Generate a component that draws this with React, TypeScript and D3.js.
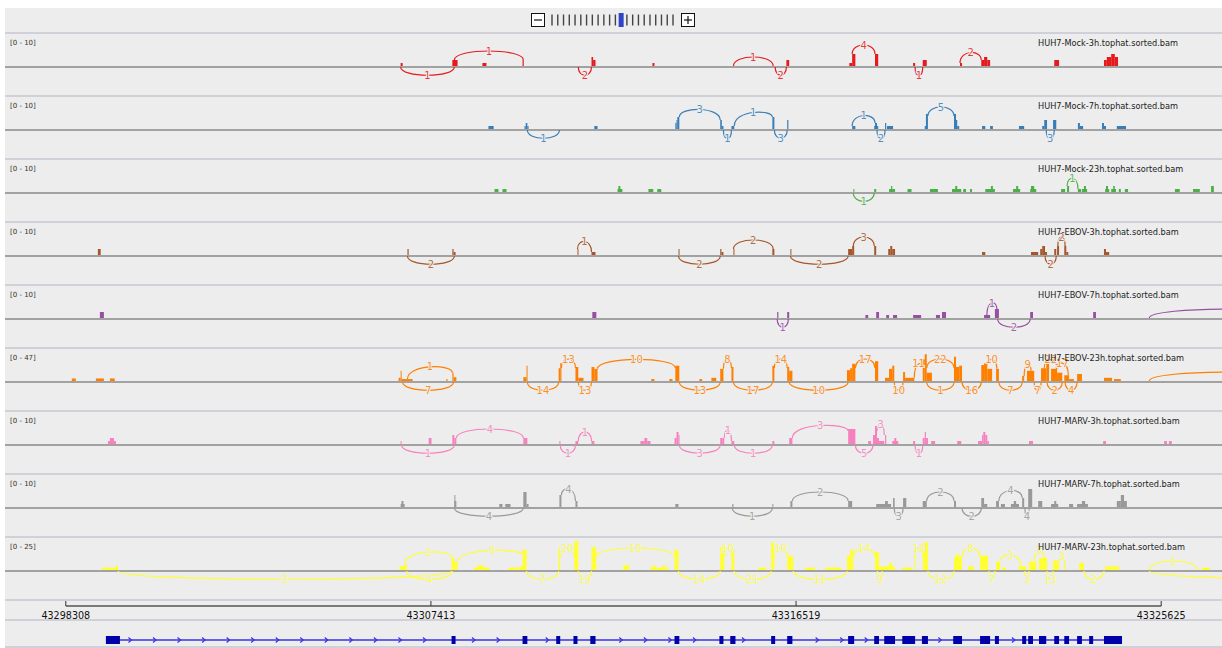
import React from "react";
import * as d3 from "d3";

// positions are kb offsets from the first axis tick (43298308)
const GENOME_START = 43298308;
const AXIS_TICKS = [43298308, 43307413, 43316519, 43325625];

const TRACK_NAMES = [
  "HUH7-Mock-3h.tophat.sorted.bam",
  "HUH7-Mock-7h.tophat.sorted.bam",
  "HUH7-Mock-23h.tophat.sorted.bam",
  "HUH7-EBOV-3h.tophat.sorted.bam",
  "HUH7-EBOV-7h.tophat.sorted.bam",
  "HUH7-EBOV-23h.tophat.sorted.bam",
  "HUH7-MARV-3h.tophat.sorted.bam",
  "HUH7-MARV-7h.tophat.sorted.bam",
  "HUH7-MARV-23h.tophat.sorted.bam",
];
const TRACK_COLORS = ["#e41a1c", "#377eb8", "#4daf4a", "#a65628", "#984ea3", "#ff7f00", "#f781bf", "#999999", "#ffff33"];
const TRACK_MAX = [10, 10, 10, 10, 10, 47, 10, 10, 25];

// coverage: [start, end, depth]
const mock3hCoverage = [[8.35,8.40,1],[9.64,9.77,2],[10.39,10.49,1],[11.39,11.42,2],[13.11,13.15,3],[13.15,13.21,2],[14.63,14.68,1],[17.97,18.04,2],[19.54,19.61,1],[19.61,19.69,4],[20.18,20.26,4],[21.13,21.18,1],[21.37,21.47,2],[22.30,22.35,1],[22.83,22.90,2],[22.90,22.98,3],[22.98,23.05,2],[24.65,24.77,2],[25.89,25.96,2],[25.96,26.07,3],[26.07,26.16,4],[26.16,26.24,3]];
const mock7hCoverage = [[10.54,10.67,1],[11.44,11.47,1],[11.47,11.51,2],[11.51,11.54,1],[13.18,13.26,1],[15.20,15.23,2],[15.23,15.25,3],[15.25,15.30,4],[16.32,16.36,3],[16.36,16.40,1],[16.60,16.67,1],[17.62,17.67,4],[17.99,18.02,3],[19.61,19.69,1],[20.16,20.18,1],[20.18,20.23,2],[20.23,20.26,1],[20.43,20.46,2],[20.48,20.63,1],[21.42,21.45,1],[21.45,21.50,5],[22.15,22.20,5],[22.20,22.23,3],[22.23,22.28,1],[22.85,22.93,1],[23.05,23.12,1],[23.77,23.90,1],[24.35,24.40,1],[24.40,24.47,3],[24.62,24.70,3],[25.24,25.29,2],[25.29,25.37,1],[25.84,25.89,2],[25.89,25.94,1],[26.21,26.44,1]];
const mock23hCoverage = [[10.69,10.79,1],[10.89,10.99,1],[13.76,13.88,1],[13.78,13.83,2],[14.53,14.65,1],[14.75,14.85,1],[19.64,19.66,1],[20.16,20.21,1],[20.53,20.68,1],[20.58,20.61,2],[20.99,21.09,1],[21.55,21.75,1],[22.10,22.33,1],[22.18,22.23,2],[22.38,22.45,1],[22.55,22.60,1],[22.93,23.17,1],[23.07,23.12,2],[23.62,23.80,1],[23.70,23.75,2],[24.05,24.20,1],[24.07,24.15,2],[24.82,24.92,1],[24.97,25.02,2],[25.24,25.32,1],[25.34,25.47,1],[25.39,25.44,2],[25.92,26.02,1],[25.94,25.99,2],[26.07,26.19,1],[26.12,26.16,2],[26.26,26.31,1],[26.41,26.49,1],[27.66,27.78,1],[28.11,28.28,1],[28.56,28.63,2]];
const ebov3hCoverage = [[0.80,0.87,2],[8.52,8.55,2],[9.64,9.67,2],[9.67,9.72,1],[12.76,12.78,2],[13.11,13.21,1],[15.28,15.30,2],[16.32,16.35,2],[16.35,16.40,1],[16.65,16.67,2],[17.62,17.67,2],[18.07,18.09,2],[19.51,19.61,2],[19.61,19.66,3],[20.16,20.21,3],[20.51,20.56,2],[20.56,20.61,3],[20.61,20.68,2],[22.85,22.93,1],[24.07,24.25,1],[24.30,24.35,2],[24.35,24.42,3],[24.42,24.47,1],[24.65,24.70,2],[24.72,24.77,3],[24.90,24.95,3],[24.95,25.00,1],[25.89,25.94,2],[25.94,26.02,1]];
const ebov7hCoverage = [[0.85,0.95,2],[13.13,13.23,2],[17.74,17.77,2],[17.99,18.04,2],[19.94,20.01,1],[20.21,20.28,2],[20.46,20.53,1],[20.63,20.73,1],[21.13,21.33,1],[21.70,21.80,1],[21.85,21.95,2],[22.90,23.05,1],[23.17,23.27,3],[24.05,24.12,2],[25.62,25.69,2]];
const ebov23hCoverage = [[0.15,0.25,4],[0.75,0.95,4],[1.10,1.22,4],[8.30,8.35,5],[8.35,8.37,16],[8.37,8.65,3],[9.49,9.52,3],[9.64,9.67,13],[9.67,9.74,6],[11.41,11.49,6],[11.49,11.51,24],[12.29,12.33,20],[12.33,12.36,28],[12.71,12.78,22],[12.78,12.91,5],[13.11,13.18,22],[13.18,13.26,19],[14.60,14.68,3],[15.05,15.13,3],[15.20,15.30,24],[15.80,15.87,3],[16.10,16.22,5],[16.32,16.40,19],[16.60,16.65,22],[17.62,17.67,24],[17.99,18.04,22],[18.04,18.12,16],[19.48,19.56,17],[19.56,19.61,20],[19.61,19.69,27],[20.18,20.26,31],[20.43,20.53,5],[20.53,20.61,19],[20.61,20.66,24],[20.88,20.93,14],[20.93,21.16,5],[21.37,21.42,34],[21.42,21.47,42],[21.47,21.60,13],[22.15,22.20,38],[22.20,22.28,22],[22.28,22.35,24],[22.83,22.90,25],[22.90,22.98,28],[22.98,23.10,19],[23.20,23.27,19],[23.85,23.90,8],[23.97,24.15,16],[24.32,24.45,20],[24.45,24.52,28],[24.57,24.72,19],[24.72,24.85,13],[24.90,25.02,9],[25.02,25.14,3],[25.22,25.34,11],[25.89,26.09,5],[26.14,26.31,3]];
const marv3hCoverage = [[1.05,1.10,1],[1.10,1.20,2],[1.20,1.25,1],[8.35,8.37,1],[9.05,9.12,2],[9.64,9.69,3],[9.69,9.74,2],[11.41,11.51,2],[12.31,12.33,1],[12.71,12.78,1],[13.11,13.18,1],[14.33,14.43,1],[14.43,14.50,2],[14.50,14.58,1],[15.18,15.23,2],[15.23,15.28,4],[15.28,15.30,3],[16.32,16.37,2],[16.37,16.42,2],[16.60,16.67,1],[17.62,17.67,1],[18.04,18.12,2],[19.51,19.69,5],[20.01,20.08,1],[20.13,20.18,3],[20.18,20.23,6],[20.23,20.28,2],[20.28,20.41,1],[20.43,20.46,3],[20.61,20.76,1],[20.66,20.71,2],[21.13,21.18,1],[21.37,21.42,2],[21.42,21.45,4],[21.45,21.50,2],[21.58,21.68,1],[22.23,22.33,1],[22.75,22.85,1],[22.85,22.88,3],[22.88,22.93,4],[22.93,22.98,3],[22.98,23.02,1],[24.02,24.12,1],[25.87,25.94,1],[27.39,27.46,1],[27.51,27.58,1]];
const marv7hCoverage = [[8.35,8.45,1],[8.37,8.42,2],[9.69,9.74,2],[9.69,9.71,4],[10.81,10.89,1],[10.96,11.09,1],[11.41,11.49,5],[11.49,11.54,1],[12.31,12.36,4],[12.71,12.76,2],[15.20,15.28,1],[16.62,16.65,1],[17.62,17.64,1],[18.07,18.12,2],[19.51,19.61,2],[20.21,20.33,1],[20.33,20.58,1],[20.43,20.50,2],[20.63,20.67,3],[20.88,20.96,3],[21.37,21.47,2],[22.15,22.20,2],[22.83,22.90,3],[22.90,22.98,1],[23.20,23.27,2],[23.32,23.42,1],[23.57,23.77,1],[23.64,23.70,2],[23.85,23.90,3],[24.00,24.10,6],[24.25,24.35,2],[24.57,24.75,1],[24.65,24.70,2],[25.02,25.12,1],[25.22,25.49,1],[25.34,25.42,2],[26.21,26.31,2],[26.31,26.39,4],[26.39,26.46,2]];
const marv23hCoverage = [[0.90,1.25,2],[1.25,1.30,4],[8.32,8.50,3],[8.45,8.50,5],[9.62,9.69,10],[9.69,9.77,7],[10.17,10.57,2],[10.27,10.42,4],[11.04,11.31,2],[11.31,11.39,3],[11.39,11.49,17],[12.29,12.33,19],[12.68,12.78,24],[13.11,13.23,19],[13.90,14.05,4],[14.58,15.03,2],[14.63,14.70,4],[14.88,14.95,4],[15.18,15.28,17],[16.32,16.42,19],[16.60,16.67,19],[17.27,17.47,2],[17.59,17.67,23],[17.99,18.14,12],[18.44,18.69,2],[18.94,19.34,2],[19.48,19.56,12],[19.56,19.64,17],[20.18,20.28,15],[20.28,20.68,3],[20.53,20.61,6],[20.86,21.11,2],[21.16,21.18,12],[21.37,21.40,15],[21.40,21.50,23],[22.15,22.35,11],[22.20,22.28,13],[22.50,22.65,3],[22.80,23.00,12],[23.20,23.30,7],[23.35,23.45,2],[23.77,23.95,3],[24.02,24.20,7],[24.27,24.47,10],[24.62,24.77,8],[25.27,25.39,6],[25.92,26.27,3],[28.33,28.53,2]];

// junctions: [start, end, reads, side] (1 = above, -1 = below)
const mock3hJunctions = [[8.35,9.69,1,-1],[9.69,11.41,1,1],[12.78,13.11,2,-1],[16.65,17.64,1,1],[17.69,17.97,2,-1],[19.61,20.18,4,1],[21.18,21.37,1,-1],[22.30,22.83,2,1]];
const mock7hJunctions = [[11.51,12.31,1,-1],[15.30,16.32,3,1],[16.40,16.60,1,-1],[16.67,17.62,1,1],[17.67,17.99,3,-1],[19.61,20.18,1,1],[20.23,20.43,2,-1],[21.50,22.15,5,1],[24.45,24.65,3,-1]];
const mock23hJunctions = [[19.64,20.16,1,-1],[24.97,25.24,1,1]];
const ebov3hJunctions = [[8.52,9.69,2,-1],[12.76,13.11,1,1],[15.28,16.32,2,-1],[16.65,17.64,2,1],[18.07,19.51,2,-1],[19.64,20.16,3,1],[24.42,24.70,2,-1],[24.74,24.92,2,1]];
const ebov7hJunctions = [[17.74,18.02,1,-1],[22.97,23.22,1,1],[23.24,24.05,2,-1],[27.02,31.0,1,1]];
const ebov23hJunctions = [[8.52,9.64,1,1],[8.40,9.67,7,-1],[11.51,12.29,14,-1],[12.36,12.71,13,1],[12.78,13.11,13,-1],[13.26,15.20,10,1],[15.30,16.32,13,-1],[16.40,16.60,8,1],[16.65,17.62,17,-1],[17.67,17.99,14,1],[18.04,19.51,10,-1],[19.69,20.18,17,1],[20.66,20.88,10,-1],[21.16,21.37,11,1],[21.47,22.15,22,1],[21.47,22.15,1,-1],[22.35,22.83,16,-1],[22.95,23.22,10,1],[23.27,23.85,7,-1],[23.90,24.07,9,1],[24.15,24.32,7,-1],[24.40,24.72,22,1],[24.70,25.00,17,1],[24.47,24.85,2,-1],[24.92,25.22,4,-1],[27.02,31.0,1,1]];
const marv3hJunctions = [[8.37,9.69,1,-1],[9.74,11.41,4,1],[12.33,12.71,1,-1],[12.78,13.11,1,1],[15.30,16.32,3,-1],[16.42,16.60,1,1],[16.67,17.62,1,-1],[18.12,19.51,3,1],[19.69,20.13,5,-1],[20.23,20.41,3,1],[21.18,21.37,1,-1]];
const marv7hJunctions = [[9.69,11.41,4,-1],[12.36,12.71,4,1],[16.62,17.62,1,-1],[18.12,19.51,2,1],[20.66,20.88,3,-1],[21.47,22.15,2,1],[22.35,22.83,2,-1],[23.27,23.85,4,1],[23.92,24.02,4,-1]];
const marv23hJunctions = [[1.30,9.62,3,-1],[8.45,9.64,2,1],[8.50,9.64,4,-1],[9.77,11.49,9,1],[11.49,12.29,7,-1],[12.33,12.68,20,1],[12.78,13.11,19,-1],[13.23,15.18,10,1],[15.28,16.32,14,-1],[16.42,16.60,10,1],[16.67,17.59,21,-1],[17.67,17.99,10,1],[18.14,19.48,11,-1],[19.64,20.18,14,1],[20.24,20.36,9,-1],[21.18,21.37,13,1],[21.50,22.15,12,-1],[22.35,22.80,8,1],[23.02,23.17,7,-1],[23.30,23.82,3,1],[23.92,24.02,3,-1],[24.15,24.40,3,1],[24.47,24.62,13,-1],[24.77,24.92,3,1],[25.39,25.89,2,-1],[27.02,28.22,1,1],[27.02,36.0,1,-1]];

const COVERAGE = [mock3hCoverage, mock7hCoverage, mock23hCoverage, ebov3hCoverage, ebov7hCoverage, ebov23hCoverage, marv3hCoverage, marv7hCoverage, marv23hCoverage];
const JUNCTIONS = [mock3hJunctions, mock7hJunctions, mock23hJunctions, ebov3hJunctions, ebov7hJunctions, ebov23hJunctions, marv3hJunctions, marv7hJunctions, marv23hJunctions];

// gene model exons [start, end]
const geneExons = [[1.00,1.35],[9.62,9.72],[11.39,11.51],[12.23,12.33],[12.66,12.76],[13.08,13.21],[15.18,15.30],[16.30,16.40],[16.57,16.70],[17.59,17.69],[17.99,18.12],[19.51,19.66],[20.16,20.28],[20.41,20.68],[20.86,21.18],[21.35,21.50],[22.13,22.35],[22.80,23.05],[23.17,23.27],[23.85,23.95],[24.00,24.12],[24.27,24.45],[24.65,24.77],[24.90,25.02],[25.22,25.34],[25.52,25.62],[25.89,26.34]];

const BG = "#ededed";
const SEP = "#d0d0d9";
const TRACK_TOP = 33;
const TRACK_H = 63;
const FONT = "DejaVu Sans, sans-serif";

function Track({ index, x }) {
  const top = TRACK_TOP + index * TRACK_H;
  const base = top + 33;
  const color = TRACK_COLORS[index];
  const cov = COVERAGE[index];
  const y = d3.scaleLinear().domain([0, TRACK_MAX[index]]).range([0, 30]);
  const covAt = (p) =>
    d3.max(cov.filter((d) => p >= d[0] - 0.03 && p <= d[1] + 0.03), (d) => d[2]) || 0;

  const arcs = JUNCTIONS[index].map(([s, e, n, side], i) => {
    const x1 = x(s);
    const x2 = x(e);
    let y1, y2, yc;
    if (side > 0) {
      const h1 = Math.min(y(covAt(s)), 13);
      const h2 = Math.min(y(covAt(e)), 13);
      y1 = base - h1;
      y2 = base - h2;
      yc = base - (h1 + h2) / 2 - 12;
    } else {
      y1 = base + 1;
      y2 = base + 1;
      yc = base + 12;
    }
    const p = d3.path();
    p.moveTo(x1, y1);
    p.bezierCurveTo(x1, yc, x2, yc, x2, y2);
    const lx = (x1 + x2) / 2;
    const ly = (y1 + y2) / 8 + 0.75 * yc;
    return { key: i, d: p.toString(), lx, ly, n };
  });

  return (
    <g>
      <rect x={5} y={top - 1} width={1217} height={2} fill={SEP} />
      <text x={10} y={top + 11.5} fontSize={7} fill="#333" fontFamily={FONT}>
        {`[0 - ${TRACK_MAX[index]}]`}
      </text>
      <rect x={5} y={base} width={1217} height={2} fill="#a2a2a2" />
      <g clipPath="url(#dataClip)">
        {cov.map((d, i) => (
          <rect
            key={i}
            x={x(d[0])}
            y={base - y(d[2])}
            width={Math.max(1, x(d[1]) - x(d[0]))}
            height={y(d[2])}
            fill={color}
          />
        ))}
        {arcs.map((a) => (
          <path key={a.key} d={a.d} fill="none" stroke={color} strokeWidth={1.2} />
        ))}
        {arcs
          .filter((a) => a.lx < 1215)
          .map((a) => (
            <text
              key={a.key}
              x={a.lx}
              y={a.ly}
              dy="0.35em"
              textAnchor="middle"
              fontSize={10}
              fontFamily={FONT}
              fill={color}
              fillOpacity={0.85}
              stroke={BG}
              strokeWidth={2}
              paintOrder="stroke"
            >
              {a.n}
            </text>
          ))}
      </g>
      <text x={1038} y={top + 12.5} fontSize={8.2} fill="#222" fontFamily={FONT}>
        {TRACK_NAMES[index]}
      </text>
    </g>
  );
}

export default function App() {
  const span = (AXIS_TICKS[3] - GENOME_START) / 1000;
  const x = d3.scaleLinear().domain([0, span]).range([65.8, 1161.2]);

  // zoom widget slider positions
  const zoomLevels = d3.range(22);
  const zx = d3.scaleLinear().domain([0, 21]).range([552, 673]);
  const current = 12;

  const geneY = 640;
  const geneStart = geneExons[0][0];
  const geneEnd = geneExons[geneExons.length - 1][1];
  const arrows = d3
    .range(1.6, geneEnd, 0.612)
    .filter((p) => !geneExons.some(([s, e]) => p > s - 0.1 && p < e + 0.1));

  return (
    <div style={{ position: "absolute", left: 0, top: 0 }}>
      <svg width={1222} height={648} style={{ display: "block" }}>
        <defs>
          <clipPath id="dataClip">
            <rect x={5} y={8} width={1217} height={640} />
          </clipPath>
        </defs>
        <rect x={0} y={0} width={1222} height={648} fill="#fff" />
        <rect x={5} y={8} width={1217} height={640} fill={BG} />

        {/* zoom widget */}
        <rect x={531.5} y={13.5} width={13} height={13} fill="#fff" stroke="#111" />
        <line x1={534} x2={542} y1={20} y2={20} stroke="#111" strokeWidth={1.2} />
        {zoomLevels.map((i) =>
          i === current ? (
            <rect key={i} x={zx(i) - 2.5} y={13} width={5} height={14} fill="#2f45c9" />
          ) : (
            <rect key={i} x={zx(i) - 0.7} y={14.5} width={1.4} height={11} fill="#444" />
          )
        )}
        <rect x={681.5} y={13.5} width={13} height={13} fill="#fff" stroke="#111" />
        <line x1={684} x2={692} y1={20} y2={20} stroke="#111" strokeWidth={1.2} />
        <line x1={688} x2={688} y1={16} y2={24} stroke="#111" strokeWidth={1.2} />

        {TRACK_NAMES.map((_, i) => (
          <Track key={i} index={i} x={x} />
        ))}

        {/* ruler */}
        <rect x={5} y={599} width={1217} height={2} fill={SEP} />
        <line x1={x(0)} x2={x(span)} y1={606} y2={606} stroke="#555" strokeWidth={1.6} />
        {AXIS_TICKS.map((t) => (
          <g key={t}>
            <line
              x1={x((t - GENOME_START) / 1000)}
              x2={x((t - GENOME_START) / 1000)}
              y1={601}
              y2={606}
              stroke="#333"
            />
            <text
              x={x((t - GENOME_START) / 1000)}
              y={619}
              textAnchor="middle"
              fontSize={9.6}
              fill="#111"
              fontFamily={FONT}
            >
              {t}
            </text>
          </g>
        ))}
        <rect x={5} y={619} width={1217} height={2} fill={SEP} />

        {/* gene model */}
        <line x1={x(geneStart)} x2={x(geneEnd)} y1={geneY} y2={geneY} stroke="#3434e8" strokeWidth={1.3} />
        {arrows.map((p, i) => (
          <path
            key={i}
            d={`M${x(p) - 1.5},${geneY - 2.5} L${x(p) + 1.5},${geneY} L${x(p) - 1.5},${geneY + 2.5}`}
            fill="none"
            stroke="#3434e8"
            strokeWidth={1.2}
          />
        ))}
        {geneExons.map(([s, e], i) => (
          <rect key={i} x={x(s)} y={geneY - 4} width={Math.max(2, x(e) - x(s))} height={8} fill="#0000a8" />
        ))}
        <rect x={5} y={646} width={1217} height={2} fill={SEP} />
      </svg>
    </div>
  );
}
